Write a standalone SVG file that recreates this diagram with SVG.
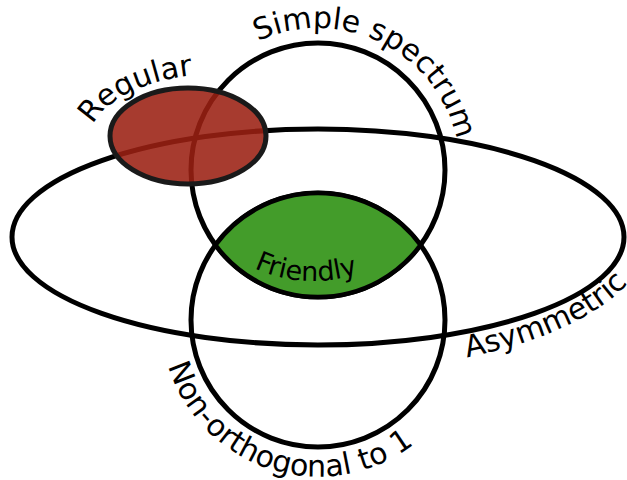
<svg xmlns="http://www.w3.org/2000/svg" xmlns:xlink="http://www.w3.org/1999/xlink" width="627" height="480" viewBox="0 0 627 480">
<style>
.set{fill:none;stroke:#000;stroke-width:5}
.lbl{font-family:"DejaVu Sans","Liberation Sans",sans-serif;font-size:30px;fill:#000}
</style>
<defs>
<path id="pSimple" d="M 258 41.3 A 142 142 0 0 1 457.8 194.7"/>
<path id="pNon" d="M 168.2 365.9 A 157 157 0 0 0 454 398.5"/>
<path id="pAsym" d="M 466.8 357.5 A 330 135 0 0 0 646.7 225.2"/>
<path id="pReg" d="M 93 124.7 A 130 70 0 0 1 330.6 109"/>
<path id="pFriendly" d="M 254 268.2 A 142 142 0 0 0 372 268.2"/>
</defs>
<rect width="627" height="480" fill="#fff"/>
<g id="connectors"></g>
<g id="asymmetric">
<ellipse class="set" cx="318" cy="237" rx="306" ry="108"/>
<text class="lbl"><textPath xlink:href="#pAsym">Asymmetric</textPath></text>
</g>
<g id="simple-spectrum">
<circle class="set" cx="318" cy="170" r="127"/>
<text class="lbl"><textPath xlink:href="#pSimple">Simple spectrum</textPath></text>
</g>
<g id="non-orthogonal">
<circle class="set" cx="318" cy="320" r="127"/>
<text class="lbl"><textPath xlink:href="#pNon">Non-orthogonal to 1</textPath></text>
</g>
<g id="friendly">
<path d="M 215.5 245 A 127 127 0 0 1 420.5 245 A 127 127 0 0 1 215.5 245 Z" fill="#439c2a" stroke="#000" stroke-width="4.5"/>
<text class="lbl" style="font-size:27px"><textPath xlink:href="#pFriendly">Friendly</textPath></text>
</g>
<g id="regular">
<ellipse cx="188" cy="136" rx="78" ry="48" fill="#9b2012" fill-opacity="0.88" stroke="#1a1a1a" stroke-width="5"/>
<text class="lbl"><textPath xlink:href="#pReg">Regular</textPath></text>
</g>
</svg>
